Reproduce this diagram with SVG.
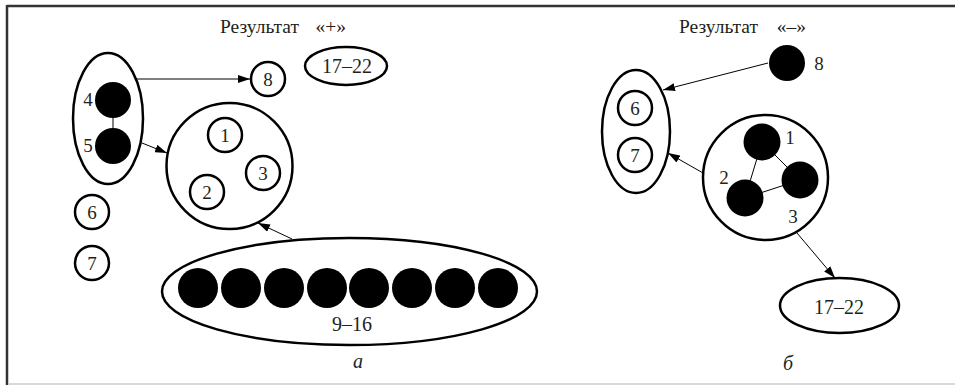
<svg xmlns="http://www.w3.org/2000/svg" width="955" height="385" viewBox="0 0 955 385" font-family="'Liberation Serif', 'DejaVu Serif', serif">
<defs>
<marker id="ah" viewBox="0 0 12 8" refX="12" refY="4" markerWidth="12" markerHeight="8" markerUnits="userSpaceOnUse" orient="auto">
<path d="M0,0 L12,4 L0,8 Z" fill="#000"/>
</marker>
</defs>
<style>
text{font-family:'Liberation Serif','DejaVu Serif',serif;font-size:19px;fill:#231f20}
.o{fill:none;stroke:#000;stroke-width:2.5}
.w{fill:#fff;stroke:#000;stroke-width:2.5}
.f{fill:#000}
.c{stroke:#000;stroke-width:1;fill:none}
.m{text-anchor:middle}
.i{font-style:italic}
.t{font-size:19.5px}
</style>
<rect width="955" height="385" fill="#fff"/>
<line x1="7" y1="6" x2="955" y2="6" stroke="#333" stroke-width="2.5"/>
<line x1="7" y1="5" x2="7" y2="385" stroke="#333" stroke-width="2.5"/>
<line x1="8" y1="384" x2="955" y2="384" stroke="#ccc" stroke-width="1.5"/>

<text x="220" y="33" class="t">Результат</text>
<text x="346" y="33" class="t" text-anchor="end">«+»</text>
<text x="679" y="33" class="t">Результат</text>
<text x="806" y="33" class="t" text-anchor="end">«–»</text>

<g id="connectors">
<line x1="136" y1="79" x2="250" y2="79" class="c" marker-end="url(#ah)"/>
<line x1="142" y1="143" x2="167" y2="153" class="c" marker-end="url(#ah)"/>
<line x1="292" y1="239" x2="258" y2="223" class="c" marker-end="url(#ah)"/>
<line x1="768" y1="63" x2="663" y2="90" class="c" marker-end="url(#ah)"/>
<line x1="703" y1="173" x2="668" y2="153" class="c" marker-end="url(#ah)"/>
<line x1="797" y1="233" x2="835" y2="278" class="c" marker-end="url(#ah)"/>
</g>

<g id="a-group45">
<ellipse cx="108" cy="118.5" rx="35" ry="65.5" class="o"/>
<line x1="113" y1="100" x2="113" y2="146" class="c"/>
<circle cx="113" cy="100" r="18" class="f"/>
<circle cx="113" cy="146" r="18" class="f"/>
<text x="88" y="106" class="m">4</text>
<text x="88" y="152" class="m">5</text>
</g>
<g id="a-node8">
<circle cx="268" cy="79" r="17" class="w"/>
<text x="268" y="86" class="m">8</text>
</g>
<g id="a-node1722">
<ellipse cx="346" cy="66" rx="41" ry="19" class="o"/>
<text x="347" y="73" class="m" style="font-size:20px">17–22</text>
</g>
<g id="a-group123">
<circle cx="229.5" cy="166" r="63" class="o"/>
<circle cx="225" cy="135" r="17" class="o"/>
<text x="225" y="142" class="m">1</text>
<circle cx="263" cy="173" r="17" class="o"/>
<text x="263" y="180" class="m">3</text>
<circle cx="207" cy="192" r="17" class="o"/>
<text x="207" y="199" class="m">2</text>
</g>
<g id="a-node6">
<circle cx="92" cy="212" r="17" class="o"/>
<text x="92" y="219" class="m">6</text>
</g>
<g id="a-node7">
<circle cx="92" cy="263" r="17" class="o"/>
<text x="92" y="270" class="m">7</text>
</g>
<g id="a-group916">
<ellipse cx="349.5" cy="291.5" rx="187.5" ry="53.5" class="o"/>
<circle cx="198" cy="288" r="20" class="f"/>
<circle cx="241" cy="288" r="20" class="f"/>
<circle cx="284" cy="288" r="20" class="f"/>
<circle cx="327" cy="288" r="20" class="f"/>
<circle cx="369" cy="288" r="20" class="f"/>
<circle cx="412" cy="288" r="20" class="f"/>
<circle cx="455" cy="288" r="20" class="f"/>
<circle cx="498" cy="288" r="20" class="f"/>
<text x="352" y="331" class="m" style="font-size:20px">9–16</text>
</g>
<text x="358" y="368" class="m i" style="font-size:20px">а</text>

<g id="b-node8">
<circle cx="787" cy="63" r="18" class="f"/>
<text x="819" y="70" class="m">8</text>
</g>
<g id="b-group67">
<ellipse cx="636" cy="131.5" rx="34" ry="61.5" class="o"/>
<circle cx="635" cy="108" r="17" class="o"/>
<text x="635" y="115" class="m">6</text>
<circle cx="635" cy="155" r="17" class="o"/>
<text x="635" y="162" class="m">7</text>
</g>
<g id="b-group123">
<circle cx="765.5" cy="177.5" r="62.5" class="o"/>
<line x1="762" y1="142" x2="745" y2="198" class="c"/>
<line x1="762" y1="142" x2="800" y2="180" class="c"/>
<line x1="745" y1="198" x2="800" y2="180" class="c"/>
<circle cx="762" cy="142" r="18.5" class="f"/>
<circle cx="800" cy="180" r="18.5" class="f"/>
<circle cx="745" cy="198" r="18.5" class="f"/>
<text x="790" y="144" class="m">1</text>
<text x="724" y="184" class="m">2</text>
<text x="793" y="223" class="m">3</text>
</g>
<g id="b-node1722">
<ellipse cx="839.5" cy="305.5" rx="59.5" ry="27.5" class="o"/>
<text x="839" y="314" class="m" style="font-size:20px">17–22</text>
</g>
<text x="788" y="370" class="m i" style="font-size:20px">б</text>
</svg>
